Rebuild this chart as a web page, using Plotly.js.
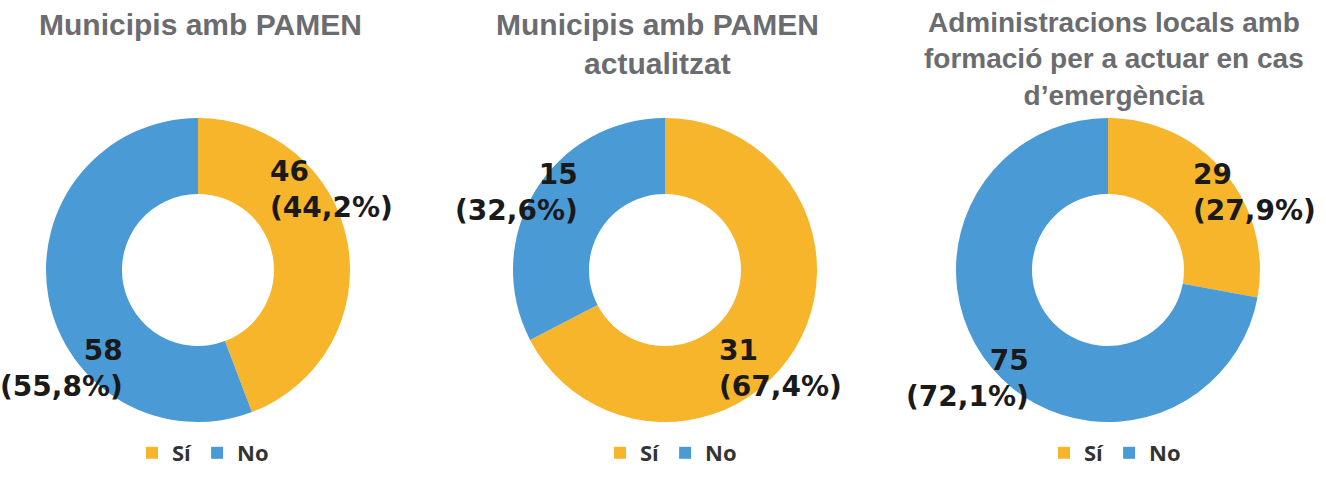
<!DOCTYPE html>
<html>
<head>
<meta charset="utf-8">
<script src="https://cdn.plot.ly/plotly-3.0.1.min.js"></script>
<style>
html,body{margin:0;padding:0;background:#ffffff;}
#wrap{position:relative;width:1326px;height:480px;}
.panel{position:absolute;top:0;width:442px;height:480px;}
</style>
</head>
<body>
<div id="wrap">
  <div class="panel" id="c0" style="left:0px"></div>
  <div class="panel" id="c1" style="left:442px"></div>
  <div class="panel" id="c2" style="left:884px"></div>
</div>
<script>
// ---- data ----
const categories = ['Sí', 'No'];
const chartTitles = [
  'Municipis amb PAMEN',
  'Municipis amb PAMEN<br>actualitzat',
  'Administracions locals amb<br>formació per a actuar en cas<br>d\u2019emergència'
];
const valuesPamen = [46, 58];
const valuesPamenActualitzat = [31, 15];
const valuesFormacio = [29, 75];

// ---- style / layout ----
const PW = 442, H = 480;
const colors = ['#F7B52B', '#4A9AD6'];
const offsets = [0, 442, 884];
const series = [valuesPamen, valuesPamenActualitzat, valuesFormacio];
const centersX = [198, 665, 1108];
const centerY = 270, radius = 152;
const titleX = [200, 657, 1114];
const titleSize = [30, 30, 28];
const titleTop = [6, 6, 5];
const legendX = [203, 671, 1115];
// label anchor positions [Sí, No] per chart: [x, y, xanchor]
const labelPos = [
  [[268, 189, 'left'], [125, 368, 'right']],
  [[717, 368, 'left'], [580, 192, 'right']],
  [[1191, 192, 'left'], [1031, 378, 'right']]
];

function fmtPct(v, total) {
  return (v / total * 100).toFixed(1).replace('.', ',') + '%';
}

series.forEach((vals, i) => {
  const off = offsets[i];
  const px = x => (x - off) / PW;
  const py = y => 1 - y / H;
  const total = vals.reduce((a, b) => a + b, 0);

  const trace = {
    type: 'pie',
    labels: categories,
    values: vals,
    hole: 0.5,
    sort: false,
    direction: 'clockwise',
    rotation: 0,
    textinfo: 'none',
    hoverinfo: 'skip',
    marker: { colors: colors, line: { width: 0 } },
    domain: {
      x: [px(centersX[i] - radius), px(centersX[i] + radius)],
      y: [py(centerY + radius), py(centerY - radius)]
    },
    showlegend: true
  };

  const annotations = [{
    text: chartTitles[i], xref: 'paper', yref: 'paper',
    x: px(titleX[i]), y: py(titleTop[i]),
    xanchor: 'center', yanchor: 'top', align: 'center', showarrow: false,
    font: { family: 'Liberation Sans, Arial, sans-serif', size: titleSize[i], color: '#6B6C6F', weight: 'bold' }
  }];
  vals.forEach((v, j) => {
    const p = labelPos[i][j];
    annotations.push({
      text: v + '<br>(' + fmtPct(v, total) + ')',
      xref: 'paper', yref: 'paper',
      x: px(p[0]), y: py(p[1]),
      xanchor: p[2], yanchor: 'middle', align: p[2], showarrow: false,
      font: { family: 'DejaVu Sans, sans-serif', size: 28, color: '#1A1A1A', weight: 'bold' }
    });
  });

  const layout = {
    width: PW, height: H,
    margin: { l: 0, r: 0, t: 0, b: 0 },
    paper_bgcolor: 'rgba(0,0,0,0)',
    plot_bgcolor: 'rgba(0,0,0,0)',
    annotations: annotations,
    legend: {
      orientation: 'h',
      x: px(legendX[i]), xanchor: 'center',
      y: py(453), yanchor: 'middle',
      font: { family: 'Open Sans, sans-serif', size: 22, color: '#333333', weight: 700 },
      bgcolor: 'rgba(0,0,0,0)',
      itemclick: false, itemdoubleclick: false
    }
  };

  Plotly.newPlot('c' + i, [trace], layout, { displayModeBar: false, staticPlot: true });
});
</script>
</body>
</html>
